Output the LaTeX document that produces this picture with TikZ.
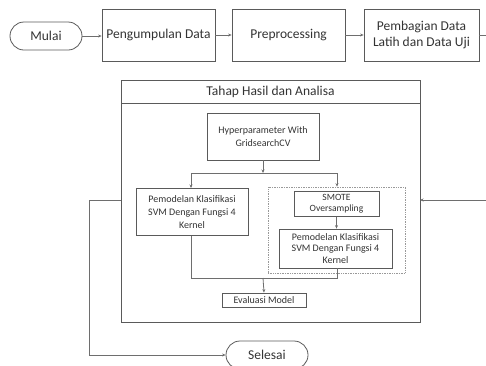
\documentclass[tikz,border=0pt]{standalone}
\usepackage{fontspec}
\setmainfont{Carlito}
\usetikzlibrary{arrows.meta}
\definecolor{bordc}{HTML}{5A5A5A}
\definecolor{linec}{HTML}{6E6E6E}
\definecolor{txtc}{HTML}{333333}
\begin{document}
\begin{tikzpicture}[x=1pt,y=-1pt,
  box/.style={draw=bordc,line width=0.8pt,rectangle,inner sep=1pt,align=center,text=txtc},
  term/.style={box,rounded corners=14pt},
  conn/.style={draw=linec,line width=0.8pt},
  arr/.style={conn,-{Stealth[length=3.5pt,width=3pt]}},
  big/.style={font=\fontsize{13.5}{16}\selectfont},
  small/.style={font=\fontsize{10}{12.8}\selectfont},
  tight/.style={font=\fontsize{10}{11.2}\selectfont},
  tighter/.style={font=\fontsize{9.6}{10.6}\selectfont}]
\useasboundingbox (0,0) rectangle (486,365);
\clip (0,0) rectangle (486,365);
% top row
\node[term,big,minimum width=72pt,minimum height=28pt] (mulai) at (46,36) {Mulai};
\node[box,big,minimum width=113pt,minimum height=52pt] (kumpul) at (158.5,35) {Pengumpulan Data};
\node[box,big,minimum width=113pt,minimum height=52pt] (prep) at (288.5,35) {Preprocessing};
\node[box,big,minimum width=115pt,minimum height=52pt] (bagi) at (421.5,35) {Pembagian Data\\Latih dan Data Uji};
\coordinate (outR) at (487,35);
\draw[arr] (mulai.east) -- (mulai.east -| kumpul.west);
\draw[arr] (kumpul.east) -- (prep.west);
\draw[arr] (prep.east) -- (bagi.west);
\draw[conn] (bagi.east) -- (outR);
% outer frame
\node[box,minimum width=299pt,minimum height=242pt] (outer) at (270.5,201) {};
\node[text=txtc,big] (title) at (270.5,91.5) {Tahap Hasil dan Analisa};
\coordinate (tl) at (121,103);
\coordinate (tr) at (420,103);
\draw[draw=bordc,line width=0.8pt] (tl) -- (tr);
\coordinate (inR) at (487,200);
\draw[arr] (inR) -- (420,200);
% inner
\node[box,small,minimum width=112pt,minimum height=47pt] (hyper) at (263,136.5) {Hyperparameter With\\GridsearchCV};
\node[box,small,minimum width=112pt,minimum height=47pt,anchor=north] (svm1) at (192,188) {Pemodelan Klasifikasi\\SVM Dengan Fungsi 4\\Kernel};
\node[draw=linec!70,densely dotted,line width=0.7pt,minimum width=137pt,minimum height=86pt] (dot) at (336.5,230) {};
\node[box,tighter,minimum width=85pt,minimum height=25.5pt,inner sep=0.5pt] (smote) at (336.5,204) {SMOTE\\Oversampling};
\node[box,tight,minimum width=113pt,minimum height=39pt] (svm2) at (335.5,248.5) {Pemodelan Klasifikasi\\SVM Dengan Fungsi 4\\Kernel};
\node[box,small,minimum width=84pt,minimum height=14pt] (eval) at (264,300) {Evaluasi Model};
\node[term,big,minimum width=82pt,minimum height=28pt] (selesai) at (267,355) {Selesai};
\coordinate (j1) at (263,173);
\coordinate (j1l) at (191,173);
\coordinate (j1r) at (337,173);
\draw[arr] (hyper.south) -- (j1);
\draw[conn] (j1l) -- (j1r);
\draw[arr] (j1l) -- (j1l |- svm1.north);
\draw[arr] (j1r) -- (j1r |- dot.north);
\draw[arr] (smote.south) -- (smote.south |- svm2.north);
\coordinate (j2l) at (191,278);
\coordinate (j2r) at (337,278);
\coordinate (j2) at (263,278);
\draw[conn] (svm1.south -| j2l) -- (j2l) -- (j2r) -- (svm2.south -| j2r);
\draw[arr] (j2) -- (eval.north);
\coordinate (lf1) at (89,200);
\coordinate (lf2) at (89,355);
\draw[arr] (outer.west |- lf1) -- (lf1) -- (lf2) -- (selesai.west);
\end{tikzpicture}
\end{document}
